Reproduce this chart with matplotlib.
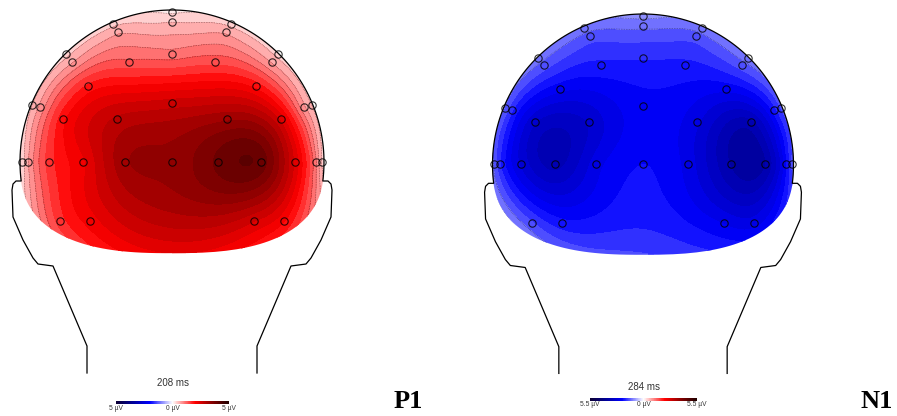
import numpy as np
import matplotlib
matplotlib.use("Agg")
import matplotlib.pyplot as plt
from matplotlib.colors import LinearSegmentedColormap, Normalize
from matplotlib.cm import ScalarMappable
from matplotlib.path import Path
from matplotlib.patches import PathPatch

# electrode positions (head radius = 1, back view)
elec_x = [0.0, 0.0, -0.39, 0.39, -0.355, 0.355, -0.70, -0.66, 0.0, -0.28, 0.28, 0.70, 0.66,
          -0.55, 0.55, -0.92, -0.87, 0.0, 0.87, 0.92, -0.72, -0.36, 0.36, 0.72,
          -0.99, -0.95, -0.81, -0.585, -0.31, 0.0, 0.30, 0.585, 0.81, 0.95, 0.99,
          -0.74, -0.54, 0.54, 0.74]
elec_y = [0.99, 0.92, 0.91, 0.91, 0.855, 0.855, 0.71, 0.66, 0.71, 0.66, 0.66, 0.71, 0.66,
          0.50, 0.50, 0.375, 0.36, 0.39, 0.36, 0.375, 0.28, 0.28, 0.28, 0.28,
          0.0, 0.0, 0.0, 0.0, 0.0, 0.0, 0.0, 0.0, 0.0, 0.0, 0.0,
          -0.39, -0.39, -0.39, -0.39]

# amplitudes (uV)
p1_values = [0.2, 0.5, 0.4, 0.4, 0.7, 0.7, 0.4, 0.7, 1.1, 1.3, 1.4, 0.4, 0.7,
             1.8, 1.9, 0.5, 0.8, 2.6, 0.8, 0.5, 1.9, 2.8, 3.2, 2.4,
             0.3, 0.7, 1.6, 2.2, 3.2, 3.3, 3.8, 3.9, 2.4, 1.0, 0.4,
             1.6, 2.1, 2.5, 2.0]
n1_values = [-1.0, -1.3, -1.2, -1.2, -1.5, -1.5, -1.2, -1.5, -1.9, -2.0, -2.0, -1.2, -1.5,
             -2.4, -2.4, -1.4, -1.9, -2.3, -2.1, -1.6, -3.0, -3.0, -2.7, -3.4,
             -1.4, -1.9, -2.8, -3.4, -2.6, -2.2, -2.6, -3.6, -3.6, -2.3, -1.6,
             -1.6, -2.1, -2.5, -2.6]

panels = ["P1", "N1"]
latencies = ["208 ms", "284 ms"]
limits = [5.0, 5.5]
cbar_labels = [["5 µV", "0 µV", "5 µV"], ["5.5 µV", "0 µV", "5.5 µV"]]

cmap = LinearSegmentedColormap.from_list(
    "bwr_dark",
    [(0.0, (0.05, 0.0, 0.2)), (0.15, (0.0, 0.0, 0.6)), (0.3, (0.0, 0.0, 1.0)),
     (0.5, (1.0, 1.0, 1.0)), (0.7, (1.0, 0.0, 0.0)), (0.86, (0.5, 0.0, 0.0)),
     (1.0, (0.12, 0.0, 0.0))])


def v4_interp(xe, ye, ve, xg, yg):
    # biharmonic spline (like griddata 'v4')
    xe = np.asarray(xe); ye = np.asarray(ye); ve = np.asarray(ve)
    d = np.hypot(xe[:, None] - xe[None, :], ye[:, None] - ye[None, :])
    with np.errstate(divide="ignore", invalid="ignore"):
        g = np.where(d > 0, d**2 * (np.log(d) - 1), 0.0)
    w = np.linalg.solve(g, ve)
    dg = np.hypot(xg[..., None] - xe, yg[..., None] - ye)
    with np.errstate(divide="ignore", invalid="ignore"):
        gg = np.where(dg > 0, dg**2 * (np.log(dg) - 1), 0.0)
    return gg @ w


# head outline, left half (pixel units of a 152 px radius head)
ear_px = [(21, 181), (16, 181), (13, 184), (12, 190), (13, 217), (23, 240),
          (33, 258), (38, 264), (53, 266), (87, 346), (87, 373)]
ang = np.linspace(np.pi / 2, np.pi + np.arcsin(19 / 152), 60)
left_x = list(np.cos(ang)) + [(p[0] - 172) / 152 for p in ear_px]
left_y = list(np.sin(ang)) + [(162 - p[1]) / 152 for p in ear_px]
out_x = np.array(left_x[::-1] + [-v for v in left_x])
out_y = np.array(left_y[::-1] + left_y)

# colored region: upper circle + flattened lower half
t1 = np.linspace(0, np.pi, 90)
t2 = np.linspace(np.pi, 2 * np.pi, 90)
n = 2.6
clip_x = np.concatenate([np.cos(t1), np.sign(np.cos(t2)) * np.abs(np.cos(t2)) ** (2 / n)])
clip_y = np.concatenate([np.sin(t1), -0.6 * np.abs(np.sin(t2)) ** (2 / n)])

gx, gy = np.meshgrid(np.linspace(-1.02, 1.02, 240), np.linspace(-0.65, 1.02, 220))

fig = plt.figure(figsize=(8.97, 4.16), dpi=100)
W, H = 897, 416

centers = [(172, 162, 152), (643, 164.5, 150.5)]
cbars = [(116, 401, 113), (590, 398, 107)]
titles_y = [383, 387]
data = [p1_values, n1_values]

for i in range(2):
    cx, cy, r = centers[i]
    xl = (-172 / 152, 172 / 152)
    yl = (-218 / 152, 162 / 152)
    wpx = (xl[1] - xl[0]) * r
    hpx = (yl[1] - yl[0]) * r
    ax = fig.add_axes([(cx - 172 / 152 * r) / W, (H - (cy + 218 / 152 * r)) / H, wpx / W, hpx / H])
    ax.set_xlim(*xl)
    ax.set_ylim(*yl)
    ax.axis("off")

    vmax = limits[i]
    z = v4_interp(elec_x, elec_y, data[i], gx, gy)
    levels = np.linspace(-vmax, vmax, 41)
    clip = PathPatch(Path(np.column_stack([clip_x, clip_y])), transform=ax.transData,
                     facecolor="none", edgecolor="none")
    ax.add_patch(clip)
    cf = ax.contourf(gx, gy, z, levels=levels, cmap=cmap, vmin=-vmax, vmax=vmax, extend="both")
    cf.set_clip_path(clip)
    low = [lv for lv in levels if 0 < abs(lv) < 1.4]
    cl = ax.contour(gx, gy, z, levels=low, colors="k", linewidths=0.45, linestyles=":", alpha=0.65)
    cl.set_clip_path(clip)

    ax.plot(out_x, out_y, color="k", lw=0.9)
    ax.plot(elec_x, elec_y, "o", mfc="none", mec="k", ms=5.3, mew=0.8, alpha=0.8)

    # colour bar and labels
    bx, by, bw = cbars[i]
    cax = fig.add_axes([bx / W, (H - by - 3) / H, bw / W, 3 / H])
    cb = fig.colorbar(ScalarMappable(Normalize(-vmax, vmax), cmap), cax=cax, orientation="horizontal")
    cb.set_ticks([])
    cb.outline.set_visible(False)
    for k, lab in enumerate(cbar_labels[i]):
        fig.text((bx + bw * k / 2) / W, (H - by - 7) / H, lab, ha="center", va="center",
                 fontsize=4.8, family="Liberation Sans", color="#333333")
    fig.text((bx + bw / 2) / W, (H - titles_y[i]) / H, latencies[i], ha="center", va="center",
             fontsize=7, family="Liberation Sans", color="#333333")

fig.text(408 / W, (H - 402) / H, "P1", ha="center", va="center", fontsize=19,
         fontweight="bold", family="Liberation Serif")
fig.text(877 / W, (H - 402) / H, "N1", ha="center", va="center", fontsize=19,
         fontweight="bold", family="Liberation Serif")

fig.savefig("out.png", dpi=100)
